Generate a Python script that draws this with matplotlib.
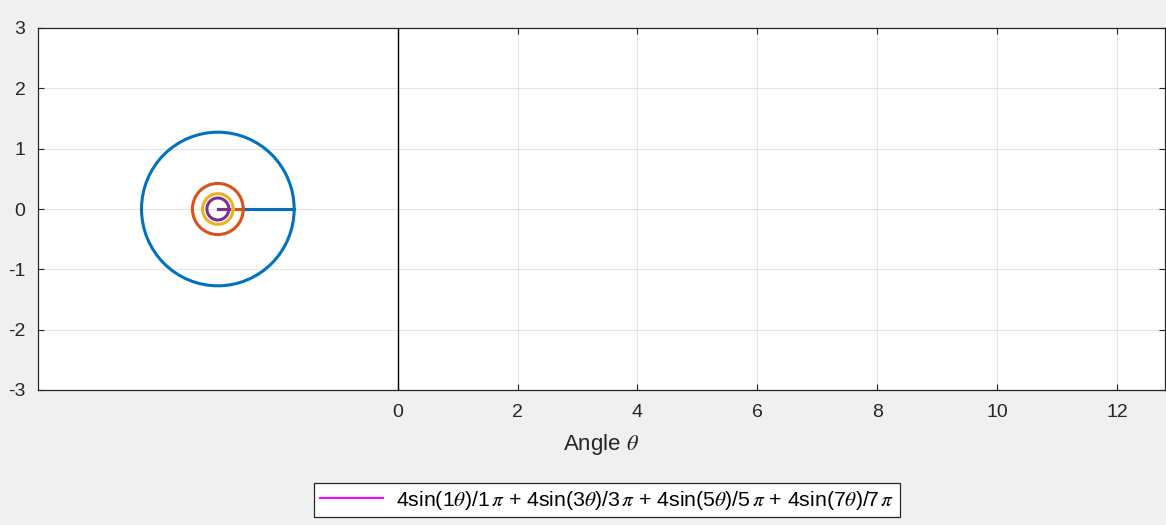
import matplotlib
matplotlib.use("Agg")
import matplotlib.pyplot as plt
from matplotlib.patches import Circle

# epicycle circles (centre x, radius) for harmonics 1,3,5,7
harmonics = [1, 3, 5, 7]
centre_x = -3.0
radii = [1.273, 0.424, 0.255, 0.182]
colors = ['#0072BD', '#D95319', '#EDB120', '#7E2F8E']

# traced wave so far (only the first sample at theta = 0)
theta = [0.0]
wave = [0.0]

xticks = [0, 2, 4, 6, 8, 10, 12]
yticks = [-3, -2, -1, 0, 1, 2, 3]

plt.rcParams['font.family'] = ['Liberation Sans', 'DejaVu Sans']
plt.rcParams['mathtext.fontset'] = 'stix'
plt.rcParams['axes.unicode_minus'] = False

fig = plt.figure(figsize=(11.66, 5.25), dpi=100, facecolor='#f0f0f0')
ax = fig.add_axes([38 / 1166, 135 / 525, 1127 / 1166, 362 / 525])

for r, c in zip(radii, colors):
    ax.add_patch(Circle((centre_x, 0), r, fill=False, edgecolor=c, linewidth=2.2))
    ax.plot([centre_x, centre_x + r], [0, 0], color=c, linewidth=2.2)

label = ' + '.join(r'4sin(%d$\theta$)/%d$\,\pi$' % (n, n) for n in harmonics)
line, = ax.plot(theta, wave, color='#FF00FF', linewidth=1.5, label=label)

ax.plot([0, 0], [-3, 3], color='k', linewidth=1)

ax.set_xlim(-6, 12.8)
ax.set_ylim(-3, 3)
ax.set_xticks(xticks)
ax.set_yticks(yticks)
ax.grid(True, color='#262626', alpha=0.12, linewidth=0.8)
ax.set_axisbelow(True)
ax.tick_params(direction='in', length=4, top=True, right=True, labelsize=14,
               colors='#262626', width=0.8)
ax.tick_params(axis='x', pad=10)
ax.tick_params(axis='y', pad=9)
for s in ax.spines.values():
    s.set_color('#262626')
    s.set_linewidth(0.9)
ax.set_xlabel(r'Angle $\theta$', fontsize=16, color='#262626', labelpad=8)

leg = fig.legend(handles=[line], loc='lower center',
                 bbox_to_anchor=(607 / 1166, 8 / 525), fontsize=15.3,
                 fancybox=False, framealpha=1, edgecolor='#262626',
                 handlelength=3.0, handletextpad=0.6, borderpad=0.25,
                 borderaxespad=0)
leg.get_frame().set_linewidth(0.9)

fig.savefig('out.png', dpi=100, facecolor=fig.get_facecolor())
